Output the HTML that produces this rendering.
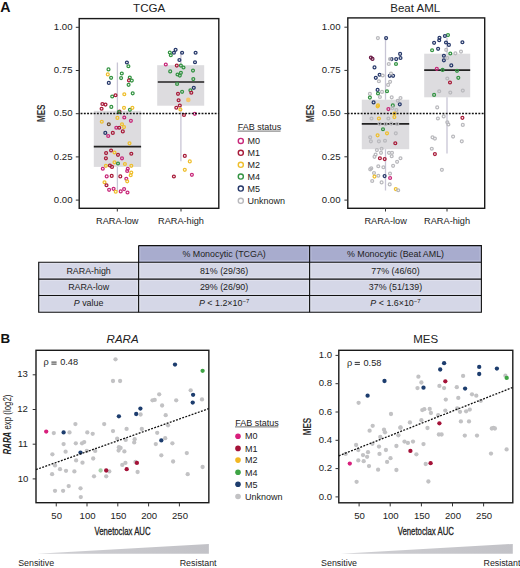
<!DOCTYPE html>
<html><head><meta charset="utf-8">
<style>
html,body{margin:0;padding:0;background:#fff;}
body{width:520px;height:568px;overflow:hidden;}
svg{display:block;}
text{font-family:"Liberation Sans",sans-serif;fill:#222;}
.t{font-size:9.6px;}
.xl{font-size:9.2px;}
.h{fill:none;stroke-width:1.25;}
</style></head><body>
<svg width="520" height="568" viewBox="0 0 520 568">
<!-- Panel labels -->
<text x="0.3" y="12.4" style="font-size:14.2px;font-weight:bold;fill:#111">A</text>
<text x="0.6" y="343.3" style="font-size:13.4px;font-weight:bold;fill:#111">B</text>

<!-- ===== TCGA ===== -->
<text x="149.2" y="12.1" text-anchor="middle" style="font-size:11.6px">TCGA</text>
<g fill="#dddcdf">
<rect x="93.8" y="110.8" width="47.3" height="56.1"/>
<rect x="157.2" y="65.2" width="47" height="40.5"/>
</g>
<g stroke="#c8c5d5" stroke-width="1.3">
<line x1="117.4" y1="62.5" x2="117.4" y2="110.8"/><line x1="117.4" y1="166.9" x2="117.4" y2="191.3"/>
<line x1="180.9" y1="52" x2="180.9" y2="65.2"/><line x1="180.9" y1="106" x2="180.9" y2="161.3"/>
</g>
<g stroke="#222" stroke-width="1.7">
<line x1="93.8" y1="146.7" x2="141.1" y2="146.7"/>
<line x1="157.8" y1="82" x2="204.2" y2="82"/>
</g>
<g class="h">
<circle cx="126.9" cy="62.5" r="1.45" stroke="#26386a"/>
<circle cx="128.4" cy="66.2" r="1.45" stroke="#349443"/>
<circle cx="108.5" cy="69.4" r="1.45" stroke="#349443"/>
<circle cx="107.8" cy="74.4" r="1.45" stroke="#efbf2d"/>
<circle cx="111.1" cy="77.8" r="1.45" stroke="#349443"/>
<circle cx="121.8" cy="73.5" r="1.45" stroke="#349443"/>
<circle cx="121.1" cy="78.1" r="1.45" stroke="#349443"/>
<circle cx="129.8" cy="77.5" r="1.45" stroke="#349443"/>
<circle cx="129" cy="80.4" r="1.45" stroke="#a81c3a"/>
<circle cx="131.8" cy="80.6" r="1.45" stroke="#349443"/>
<circle cx="128.6" cy="84.8" r="1.45" stroke="#349443"/>
<circle cx="108.8" cy="82.9" r="1.45" stroke="#26386a"/>
<circle cx="124.3" cy="94.2" r="1.45" stroke="#efbf2d"/>
<circle cx="132.7" cy="93.3" r="1.45" stroke="#349443"/>
<circle cx="112.2" cy="96.5" r="1.45" stroke="#349443"/>
<circle cx="115.5" cy="95.2" r="1.45" stroke="#a81c3a"/>
<circle cx="102.4" cy="104" r="1.45" stroke="#a81c3a"/>
<circle cx="105.5" cy="104.6" r="1.45" stroke="#a81c3a"/>
<circle cx="101.6" cy="108.7" r="1.45" stroke="#a81c3a"/>
<circle cx="111.3" cy="106.9" r="1.45" stroke="#349443"/>
<circle cx="124" cy="107.8" r="1.45" stroke="#efbf2d"/>
<circle cx="129.9" cy="109.8" r="1.45" stroke="#349443"/>
<circle cx="132.4" cy="107.8" r="1.45" stroke="#efbf2d"/>
<circle cx="119.5" cy="111.5" r="1.45" stroke="#a81c3a"/>
<circle cx="118.9" cy="112.1" r="1.45" stroke="#349443"/>
<circle cx="117.4" cy="117.9" r="1.45" stroke="#efbf2d"/>
<circle cx="124.3" cy="117.5" r="1.45" stroke="#c8287a"/>
<circle cx="130.9" cy="120.8" r="1.45" stroke="#c8287a"/>
<circle cx="101.8" cy="121.7" r="1.45" stroke="#efbf2d"/>
<circle cx="108.8" cy="124.2" r="1.45" stroke="#6a4a30"/>
<circle cx="122" cy="124.2" r="1.45" stroke="#efbf2d"/>
<circle cx="116.3" cy="127.7" r="1.45" stroke="#c8287a"/>
<circle cx="119.2" cy="127.7" r="1.45" stroke="#a81c3a"/>
<circle cx="124" cy="127.1" r="1.45" stroke="#efbf2d"/>
<circle cx="122.8" cy="131.4" r="1.45" stroke="#a81c3a"/>
<circle cx="105.3" cy="132.9" r="1.45" stroke="#26386a"/>
<circle cx="112.8" cy="132.9" r="1.45" stroke="#a81c3a"/>
<circle cx="108.2" cy="136" r="1.45" stroke="#c8287a"/>
<circle cx="129.5" cy="143.3" r="1.45" stroke="#efbf2d"/>
<circle cx="111.1" cy="150.5" r="1.45" stroke="#a81c3a"/>
<circle cx="106.1" cy="153.1" r="1.45" stroke="#a81c3a"/>
<circle cx="114.5" cy="152.5" r="1.45" stroke="#efbf2d"/>
<circle cx="118" cy="154.8" r="1.45" stroke="#a81c3a"/>
<circle cx="131.3" cy="153.7" r="1.45" stroke="#a81c3a"/>
<circle cx="105.9" cy="158.3" r="1.45" stroke="#a81c3a"/>
<circle cx="122" cy="158.3" r="1.45" stroke="#c8287a"/>
<circle cx="114.5" cy="162.3" r="1.45" stroke="#efbf2d"/>
<circle cx="118" cy="163.5" r="1.45" stroke="#349443"/>
<circle cx="124.9" cy="164" r="1.45" stroke="#efbf2d"/>
<circle cx="105.9" cy="165.8" r="1.45" stroke="#efbf2d"/>
<circle cx="109.9" cy="165.5" r="1.45" stroke="#a81c3a"/>
<circle cx="112" cy="166.9" r="1.45" stroke="#a81c3a"/>
<circle cx="131.3" cy="165.8" r="1.45" stroke="#efbf2d"/>
<circle cx="102.8" cy="168.7" r="1.45" stroke="#c8287a"/>
<circle cx="127.8" cy="168.7" r="1.45" stroke="#c8287a"/>
<circle cx="127.2" cy="171" r="1.45" stroke="#c8287a"/>
<circle cx="131.3" cy="172.5" r="1.45" stroke="#efbf2d"/>
<circle cx="130.7" cy="175.2" r="1.45" stroke="#efbf2d"/>
<circle cx="106.7" cy="176.4" r="1.45" stroke="#c8287a"/>
<circle cx="111.7" cy="175.9" r="1.45" stroke="#a81c3a"/>
<circle cx="120.3" cy="176.4" r="1.45" stroke="#a81c3a"/>
<circle cx="126.3" cy="178.7" r="1.45" stroke="#c8287a"/>
<circle cx="127.2" cy="181.3" r="1.45" stroke="#efbf2d"/>
<circle cx="104.5" cy="182.2" r="1.45" stroke="#efbf2d"/>
<circle cx="106.5" cy="185.2" r="1.45" stroke="#a81c3a"/>
<circle cx="109.1" cy="189.8" r="1.45" stroke="#c8287a"/>
<circle cx="113.6" cy="188.8" r="1.45" stroke="#c8287a"/>
<circle cx="115.7" cy="191.7" r="1.45" stroke="#efbf2d"/>
<circle cx="120.7" cy="191.4" r="1.45" stroke="#c8287a"/>
<circle cx="124.1" cy="189.1" r="1.45" stroke="#c8287a"/>
<circle cx="127.5" cy="192.5" r="1.45" stroke="#c8287a"/>
<circle cx="175.6" cy="49.8" r="1.45" stroke="#26386a"/>
<circle cx="173.9" cy="52.7" r="1.45" stroke="#26386a"/>
<circle cx="169.8" cy="52.5" r="1.45" stroke="#349443"/>
<circle cx="170.8" cy="55.2" r="1.45" stroke="#349443"/>
<circle cx="182.1" cy="52.7" r="1.45" stroke="#26386a"/>
<circle cx="195.6" cy="52.7" r="1.45" stroke="#26386a"/>
<circle cx="179.4" cy="60" r="1.45" stroke="#26386a"/>
<circle cx="195" cy="62.2" r="1.45" stroke="#26386a"/>
<circle cx="165.8" cy="64.5" r="1.45" stroke="#c8287a"/>
<circle cx="176.8" cy="65.6" r="1.45" stroke="#a81c3a"/>
<circle cx="180.9" cy="65.6" r="1.45" stroke="#349443"/>
<circle cx="183.5" cy="67.5" r="1.45" stroke="#349443"/>
<circle cx="170.2" cy="71.4" r="1.45" stroke="#349443"/>
<circle cx="193" cy="70.6" r="1.45" stroke="#349443"/>
<circle cx="180.9" cy="72.8" r="1.45" stroke="#349443"/>
<circle cx="177.5" cy="74.5" r="1.45" stroke="#349443"/>
<circle cx="179.8" cy="75.6" r="1.45" stroke="#349443"/>
<circle cx="193.3" cy="79.1" r="1.45" stroke="#349443"/>
<circle cx="177.1" cy="84" r="1.45" stroke="#349443"/>
<circle cx="193.8" cy="87.8" r="1.45" stroke="#26386a"/>
<circle cx="190.4" cy="90.2" r="1.45" stroke="#349443"/>
<circle cx="191.3" cy="92.7" r="1.45" stroke="#a81c3a"/>
<circle cx="182.1" cy="91.8" r="1.45" stroke="#349443"/>
<circle cx="178" cy="93.8" r="1.45" stroke="#a81c3a"/>
<circle cx="178.6" cy="100.2" r="1.45" stroke="#a81c3a"/>
<circle cx="188.3" cy="99.9" r="2.3" fill="#f4c56e" stroke="none"/>
<circle cx="179.8" cy="105.5" r="1.45" stroke="#a81c3a"/>
<circle cx="176.3" cy="107.7" r="1.45" stroke="#a81c3a"/>
<circle cx="180.4" cy="109.5" r="1.45" stroke="#efbf2d"/>
<circle cx="184" cy="115" r="1.45" stroke="#a81c3a"/>
<circle cx="194.8" cy="113.8" r="1.45" stroke="#c8287a"/>
<circle cx="184.8" cy="155.9" r="1.45" stroke="#a81c3a"/>
<circle cx="189.8" cy="161.4" r="1.45" stroke="#efbf2d"/>
<circle cx="184.8" cy="169.8" r="1.45" stroke="#efbf2d"/>
<circle cx="191.9" cy="174.8" r="1.45" stroke="#c8287a"/>
<circle cx="173.9" cy="176.5" r="1.45" stroke="#a81c3a"/>
</g>
<line x1="79" y1="113.5" x2="219" y2="113.5" stroke="#111" stroke-width="1.5" stroke-dasharray="1.9,1.37" stroke-dashoffset="1.69"/>
<rect x="79.2" y="18.6" width="139.6" height="189.7" fill="none" stroke="#1a1a1a" stroke-width="1.4"/>
<g stroke="#333" stroke-width="1">
<line x1="75.8" y1="27.3" x2="79" y2="27.3"/><line x1="75.8" y1="70.5" x2="79" y2="70.5"/>
<line x1="75.8" y1="113.7" x2="79" y2="113.7"/><line x1="75.8" y1="156.9" x2="79" y2="156.9"/>
<line x1="75.8" y1="200.1" x2="79" y2="200.1"/>
<line x1="117.3" y1="208.3" x2="117.3" y2="211.5"/><line x1="181" y1="208.3" x2="181" y2="211.5"/>
</g>
<g class="t" text-anchor="end">
<text x="72.5" y="30.0">1.00</text><text x="72.5" y="73.2">0.75</text><text x="72.5" y="116.4">0.50</text>
<text x="72.5" y="159.6">0.25</text><text x="72.5" y="202.8">0.00</text>
</g>
<g class="xl" text-anchor="middle">
<text x="117.3" y="224.4">RARA-low</text><text x="181" y="224.4">RARA-high</text>
</g>
<text transform="translate(45.3,113.3) rotate(-90) scale(0.75,1)" text-anchor="middle" style="font-size:10.8px;font-weight:bold;fill:#333">MES</text>

<!-- Legend A -->
<text x="237.7" y="130" style="font-size:9px">FAB status</text>
<line x1="237.6" y1="131.1" x2="280.6" y2="131.1" stroke="#333" stroke-width="0.7"/>
<g fill="none" stroke-width="1.4">
<circle cx="240.8" cy="140.9" r="2.55" stroke="#c8287a"/>
<circle cx="240.8" cy="152.8" r="2.55" stroke="#a81c3a"/>
<circle cx="240.8" cy="164.8" r="2.55" stroke="#efbf2d"/>
<circle cx="240.8" cy="176.6" r="2.55" stroke="#349443"/>
<circle cx="240.8" cy="188.6" r="2.55" stroke="#26386a"/>
<circle cx="240.8" cy="200.8" r="2.55" stroke="#b9b9bd"/>
</g>
<g style="font-size:9px">
<text x="247.4" y="144">M0</text><text x="247.4" y="155.9">M1</text><text x="247.4" y="167.9">M2</text>
<text x="247.4" y="179.7">M4</text><text x="247.4" y="191.7">M5</text><text x="247.4" y="203.9">Unknown</text>
</g>

<!-- ===== Beat AML ===== -->
<text x="415.2" y="11.6" text-anchor="middle" style="font-size:11.5px">Beat AML</text>
<g fill="#dddcdf">
<rect x="361.8" y="99.7" width="47.4" height="49.5"/>
<rect x="424.2" y="53.7" width="46" height="43.6"/>
</g>
<g stroke="#c8c5d5" stroke-width="1.3">
<line x1="385.5" y1="38" x2="385.5" y2="99.7"/><line x1="385.5" y1="149.2" x2="385.5" y2="190.5"/>
<line x1="447" y1="38" x2="447" y2="53.7"/><line x1="447" y1="97.3" x2="447" y2="153.5"/>
</g>
<g stroke="#222" stroke-width="1.7">
<line x1="361.8" y1="123.8" x2="409.2" y2="123.8"/>
<line x1="424.2" y1="70.1" x2="470.2" y2="70.1"/>
</g>
<g class="h">
<circle cx="377.9" cy="38.1" r="1.45" stroke="#b9b9bd"/>
<circle cx="386.1" cy="38.1" r="1.45" stroke="#26386a"/>
<circle cx="370.9" cy="57.6" r="1.45" stroke="#6a1a45"/>
<circle cx="372.5" cy="58.9" r="1.45" stroke="#6a1a45"/>
<circle cx="400.1" cy="53.9" r="1.45" stroke="#26386a"/>
<circle cx="400.5" cy="58" r="1.45" stroke="#26386a"/>
<circle cx="396.2" cy="59.1" r="1.45" stroke="#26386a"/>
<circle cx="391.5" cy="59.1" r="1.45" stroke="#26386a"/>
<circle cx="390" cy="59.1" r="1.45" stroke="#b9b9bd"/>
<circle cx="388.8" cy="64" r="1.45" stroke="#b9b9bd"/>
<circle cx="396" cy="64" r="1.45" stroke="#349443"/>
<circle cx="374.5" cy="67.4" r="1.45" stroke="#26386a"/>
<circle cx="379.6" cy="74.7" r="1.45" stroke="#26386a"/>
<circle cx="375.8" cy="77.8" r="1.45" stroke="#26386a"/>
<circle cx="382.7" cy="75.5" r="1.45" stroke="#b9b9bd"/>
<circle cx="389.7" cy="75.8" r="1.45" stroke="#26386a"/>
<circle cx="393.1" cy="75.8" r="1.45" stroke="#26386a"/>
<circle cx="391" cy="73.5" r="1.45" stroke="#b9b9bd"/>
<circle cx="378.9" cy="81.2" r="1.45" stroke="#b9b9bd"/>
<circle cx="390.1" cy="81.8" r="1.45" stroke="#b9b9bd"/>
<circle cx="388.1" cy="84.9" r="1.45" stroke="#b9b9bd"/>
<circle cx="377.6" cy="89.9" r="1.45" stroke="#26386a"/>
<circle cx="387" cy="91.2" r="1.45" stroke="#349443"/>
<circle cx="378" cy="93.5" r="1.45" stroke="#349443"/>
<circle cx="382" cy="91.9" r="1.45" stroke="#b9b9bd"/>
<circle cx="369.9" cy="93.9" r="1.45" stroke="#b9b9bd"/>
<circle cx="369.9" cy="97.6" r="1.45" stroke="#349443"/>
<circle cx="379.9" cy="97" r="1.45" stroke="#b9b9bd"/>
<circle cx="391.7" cy="97.3" r="1.45" stroke="#b9b9bd"/>
<circle cx="400.5" cy="98" r="1.45" stroke="#b9b9bd"/>
<circle cx="373.6" cy="102.4" r="1.45" stroke="#26386a"/>
<circle cx="378" cy="105.4" r="1.45" stroke="#efbf2d"/>
<circle cx="399.8" cy="104.3" r="1.45" stroke="#26386a"/>
<circle cx="392.8" cy="105.4" r="1.45" stroke="#349443"/>
<circle cx="397.8" cy="100.7" r="1.45" stroke="#b9b9bd"/>
<circle cx="388.4" cy="109.1" r="1.45" stroke="#c8287a"/>
<circle cx="392.4" cy="108.1" r="1.45" stroke="#b9b9bd"/>
<circle cx="396.4" cy="110.1" r="1.45" stroke="#b9b9bd"/>
<circle cx="394.4" cy="113.5" r="1.45" stroke="#efbf2d"/>
<circle cx="379.5" cy="123.8" r="1.45" stroke="#b9b9bd"/>
<circle cx="385.6" cy="124.1" r="1.45" stroke="#b9b9bd"/>
<circle cx="391.2" cy="123.6" r="1.45" stroke="#b9b9bd"/>
<circle cx="397.2" cy="124" r="1.45" stroke="#b9b9bd"/>
<circle cx="377.6" cy="106.3" r="1.45" stroke="#efbf2d"/>
<circle cx="378.9" cy="118.5" r="1.45" stroke="#efbf2d"/>
<circle cx="394.4" cy="117.1" r="1.45" stroke="#efbf2d"/>
<circle cx="388.4" cy="118.5" r="1.45" stroke="#b9b9bd"/>
<circle cx="371.5" cy="118.5" r="1.45" stroke="#b9b9bd"/>
<circle cx="383" cy="129.2" r="1.45" stroke="#349443"/>
<circle cx="377.6" cy="135.3" r="1.45" stroke="#efbf2d"/>
<circle cx="387" cy="133.3" r="1.45" stroke="#efbf2d"/>
<circle cx="370.2" cy="137.3" r="1.45" stroke="#b9b9bd"/>
<circle cx="395.8" cy="133.3" r="1.45" stroke="#b9b9bd"/>
<circle cx="395.3" cy="143.2" r="1.45" stroke="#a81c3a"/>
<circle cx="378.9" cy="141.3" r="1.45" stroke="#b9b9bd"/>
<circle cx="385" cy="140.7" r="1.45" stroke="#b9b9bd"/>
<circle cx="370.9" cy="141.3" r="1.45" stroke="#b9b9bd"/>
<circle cx="376.9" cy="150.1" r="1.45" stroke="#b9b9bd"/>
<circle cx="381.6" cy="148.7" r="1.45" stroke="#b9b9bd"/>
<circle cx="381" cy="152.8" r="1.45" stroke="#b9b9bd"/>
<circle cx="389" cy="152.8" r="1.45" stroke="#b9b9bd"/>
<circle cx="392" cy="152.8" r="1.45" stroke="#b9b9bd"/>
<circle cx="391.7" cy="156.2" r="1.45" stroke="#b9b9bd"/>
<circle cx="374.5" cy="156.8" r="1.45" stroke="#b9b9bd"/>
<circle cx="375.6" cy="154.5" r="1.45" stroke="#b9b9bd"/>
<circle cx="379.9" cy="158.2" r="1.45" stroke="#a81c3a"/>
<circle cx="384.7" cy="159.1" r="1.45" stroke="#a81c3a"/>
<circle cx="400.5" cy="158.2" r="1.45" stroke="#b9b9bd"/>
<circle cx="397.1" cy="161.8" r="1.45" stroke="#b9b9bd"/>
<circle cx="393.1" cy="165.8" r="1.45" stroke="#b9b9bd"/>
<circle cx="378.3" cy="166.2" r="1.45" stroke="#b9b9bd"/>
<circle cx="383.4" cy="167.2" r="1.45" stroke="#b9b9bd"/>
<circle cx="370.2" cy="169.3" r="1.45" stroke="#b9b9bd"/>
<circle cx="371.3" cy="168.3" r="1.45" stroke="#b9b9bd"/>
<circle cx="374" cy="173" r="1.45" stroke="#b9b9bd"/>
<circle cx="374.5" cy="176.6" r="1.45" stroke="#efbf2d"/>
<circle cx="378.3" cy="175.7" r="1.45" stroke="#b9b9bd"/>
<circle cx="384.6" cy="176.1" r="1.45" stroke="#26386a"/>
<circle cx="390" cy="173.6" r="1.45" stroke="#b9b9bd"/>
<circle cx="390.1" cy="178" r="1.45" stroke="#c8287a"/>
<circle cx="372.2" cy="181" r="1.45" stroke="#b9b9bd"/>
<circle cx="381.6" cy="182.4" r="1.45" stroke="#b9b9bd"/>
<circle cx="389.7" cy="184.4" r="1.45" stroke="#b9b9bd"/>
<circle cx="395.8" cy="189.1" r="1.45" stroke="#efbf2d"/>
<circle cx="398.2" cy="190.2" r="1.45" stroke="#b9b9bd"/>
<circle cx="448" cy="35.1" r="1.45" stroke="#349443"/>
<circle cx="444.9" cy="36" r="1.45" stroke="#26386a"/>
<circle cx="439.5" cy="37.8" r="1.45" stroke="#26386a"/>
<circle cx="439.2" cy="40.2" r="1.45" stroke="#26386a"/>
<circle cx="434.1" cy="42.8" r="1.45" stroke="#26386a"/>
<circle cx="446" cy="42.5" r="1.45" stroke="#26386a"/>
<circle cx="448.9" cy="44.9" r="1.45" stroke="#26386a"/>
<circle cx="462.4" cy="42.2" r="1.45" stroke="#26386a"/>
<circle cx="438.1" cy="48.8" r="1.45" stroke="#26386a"/>
<circle cx="432.1" cy="50.2" r="1.45" stroke="#349443"/>
<circle cx="446.2" cy="49.9" r="1.45" stroke="#b9b9bd"/>
<circle cx="461" cy="51.6" r="1.45" stroke="#b9b9bd"/>
<circle cx="455.4" cy="53.3" r="1.45" stroke="#b9b9bd"/>
<circle cx="450.3" cy="53.5" r="1.45" stroke="#349443"/>
<circle cx="443.9" cy="55.7" r="1.45" stroke="#26386a"/>
<circle cx="443.9" cy="60.3" r="1.45" stroke="#26386a"/>
<circle cx="447.3" cy="58" r="1.45" stroke="#b9b9bd"/>
<circle cx="451.3" cy="65.4" r="1.45" stroke="#26386a"/>
<circle cx="436.8" cy="68.8" r="1.45" stroke="#c8287a"/>
<circle cx="442.6" cy="69.9" r="1.45" stroke="#349443"/>
<circle cx="457" cy="70.8" r="1.45" stroke="#349443"/>
<circle cx="458.3" cy="77.8" r="1.45" stroke="#349443"/>
<circle cx="447.3" cy="78.5" r="1.45" stroke="#b9b9bd"/>
<circle cx="450" cy="82.5" r="1.45" stroke="#a81c3a"/>
<circle cx="439.2" cy="91.2" r="1.45" stroke="#b9b9bd"/>
<circle cx="450.3" cy="92.6" r="1.45" stroke="#b9b9bd"/>
<circle cx="462.8" cy="90.6" r="1.45" stroke="#b9b9bd"/>
<circle cx="434.1" cy="94.9" r="1.45" stroke="#349443"/>
<circle cx="437.2" cy="107.4" r="1.45" stroke="#b9b9bd"/>
<circle cx="437.9" cy="118.5" r="1.45" stroke="#b9b9bd"/>
<circle cx="443.7" cy="116.4" r="1.45" stroke="#b9b9bd"/>
<circle cx="462.4" cy="117.8" r="1.45" stroke="#a81c3a"/>
<circle cx="448.4" cy="124.5" r="1.45" stroke="#b9b9bd"/>
<circle cx="447.3" cy="122.2" r="1.45" stroke="#b9b9bd"/>
<circle cx="462.8" cy="124.9" r="1.45" stroke="#b9b9bd"/>
<circle cx="453.1" cy="136.6" r="1.45" stroke="#b9b9bd"/>
<circle cx="432.5" cy="137.3" r="1.45" stroke="#b9b9bd"/>
<circle cx="434.9" cy="138.6" r="1.45" stroke="#b9b9bd"/>
<circle cx="461.8" cy="141.3" r="1.45" stroke="#b9b9bd"/>
<circle cx="431.8" cy="148.7" r="1.45" stroke="#b9b9bd"/>
<circle cx="434.9" cy="154.1" r="1.45" stroke="#a81c3a"/>
<circle cx="441.9" cy="169.8" r="1.45" stroke="#b9b9bd"/>
</g>
<line x1="347.6" y1="113.4" x2="484.7" y2="113.4" stroke="#111" stroke-width="1.5" stroke-dasharray="1.9,1.37"/>
<rect x="347.8" y="17.9" width="136.9" height="190.4" fill="none" stroke="#1a1a1a" stroke-width="1.4"/>
<g stroke="#333" stroke-width="1">
<line x1="344.4" y1="27.2" x2="347.6" y2="27.2"/><line x1="344.4" y1="70.4" x2="347.6" y2="70.4"/>
<line x1="344.4" y1="113.6" x2="347.6" y2="113.6"/><line x1="344.4" y1="156.8" x2="347.6" y2="156.8"/>
<line x1="344.4" y1="200.1" x2="347.6" y2="200.1"/>
<line x1="385.5" y1="208.3" x2="385.5" y2="211.5"/><line x1="447" y1="208.3" x2="447" y2="211.5"/>
</g>
<g class="t" text-anchor="end">
<text x="340.5" y="29.9">1.00</text><text x="340.5" y="73.1">0.75</text><text x="340.5" y="116.3">0.50</text>
<text x="340.5" y="159.5">0.25</text><text x="340.5" y="202.8">0.00</text>
</g>
<g class="xl" text-anchor="middle">
<text x="385.6" y="224.4">RARA-low</text><text x="447.1" y="224.4">RARA-high</text>
</g>
<text transform="translate(313.6,113.3) rotate(-90) scale(0.75,1)" text-anchor="middle" style="font-size:10.8px;font-weight:bold;fill:#333">MES</text>

<!-- ===== Table ===== -->
<g>
<rect x="138.6" y="245.6" width="342.8" height="16.6" fill="#a8acce"/>
<rect x="38.7" y="262.2" width="442.7" height="50.1" fill="#d5d7e7"/>
<g fill="none" stroke="#e8e9f3" stroke-width="0.8">
<rect x="140" y="247" width="168.2" height="13.8" stroke="#bcc0dc"/>
<rect x="311" y="247" width="169" height="13.8" stroke="#bcc0dc"/>
<g stroke="#e2e3ee">
<rect x="40.1" y="263.6" width="97.1" height="14.1"/><rect x="140" y="263.6" width="168.2" height="14.1"/><rect x="311" y="263.6" width="169" height="14.1"/>
<rect x="40.1" y="280.5" width="97.1" height="13.6"/><rect x="140" y="280.5" width="168.2" height="13.6"/><rect x="311" y="280.5" width="169" height="13.6"/>
<rect x="40.1" y="296.9" width="97.1" height="14"/><rect x="140" y="296.9" width="168.2" height="14"/><rect x="311" y="296.9" width="169" height="14"/>
</g>
</g>
<g stroke="#111" stroke-width="1.1" fill="none">
<path d="M138.6 245.6H481.4V312.3H38.7V262.2H481.4"/>
<path d="M38.7 279.1H481.4M38.7 295.5H481.4"/>
<path d="M138.6 245.6V312.3M309.6 245.6V312.3"/>
</g>
<g style="font-size:8.9px" text-anchor="middle">
<text x="224.1" y="257.3">% Monocytic (TCGA)</text>
<text x="395.5" y="257.3">% Monocytic (Beat AML)</text>
<text x="88.6" y="273.6">RARA-high</text><text x="88.6" y="290">RARA-low</text>
<text x="88.6" y="306.3"><tspan font-style="italic">P</tspan> value</text>
<text x="224.1" y="273.6">81% (29/36)</text><text x="395.5" y="273.6">77% (46/60)</text>
<text x="224.1" y="290">29% (26/90)</text><text x="395.5" y="290">37% (51/139)</text>
<text x="224.1" y="306.3"><tspan font-style="italic">P</tspan> &lt; 1.2×10<tspan dy="-3.5" style="font-size:6px">−7</tspan></text>
<text x="395.5" y="306.3"><tspan font-style="italic">P</tspan> &lt; 1.6×10<tspan dy="-3.5" style="font-size:6px">−7</tspan></text>
</g>
</g>

<!-- ===== B left: RARA ===== -->
<text x="122.6" y="343.1" text-anchor="middle" style="font-size:11.5px;font-style:italic">RARA</text>
<g>
<circle cx="115.5" cy="359.3" r="2.15" fill="#c2c2c4"/>
<circle cx="113" cy="381" r="2.15" fill="#c2c2c4"/>
<circle cx="120.1" cy="381" r="2.15" fill="#c2c2c4"/>
<circle cx="75.4" cy="424.1" r="2.15" fill="#c2c2c4"/>
<circle cx="104.2" cy="424.1" r="2.15" fill="#c2c2c4"/>
<circle cx="190.7" cy="390.3" r="2.15" fill="#c2c2c4"/>
<circle cx="202" cy="399.4" r="2.15" fill="#c2c2c4"/>
<circle cx="159.2" cy="394.3" r="2.15" fill="#c2c2c4"/>
<circle cx="152.5" cy="400.3" r="2.15" fill="#c2c2c4"/>
<circle cx="154.7" cy="399.9" r="2.15" fill="#c2c2c4"/>
<circle cx="176.2" cy="400.3" r="2.15" fill="#c2c2c4"/>
<circle cx="162.1" cy="405.5" r="2.15" fill="#c2c2c4"/>
<circle cx="140.6" cy="414.5" r="2.15" fill="#c2c2c4"/>
<circle cx="165.7" cy="415.2" r="2.15" fill="#c2c2c4"/>
<circle cx="168" cy="425.3" r="2.15" fill="#c2c2c4"/>
<circle cx="53.8" cy="433.1" r="2.15" fill="#c2c2c4"/>
<circle cx="69.5" cy="432.4" r="2.15" fill="#c2c2c4"/>
<circle cx="87.3" cy="432.4" r="2.15" fill="#c2c2c4"/>
<circle cx="92.7" cy="433.8" r="2.15" fill="#c2c2c4"/>
<circle cx="113" cy="431.1" r="2.15" fill="#c2c2c4"/>
<circle cx="63.6" cy="444.1" r="2.15" fill="#c2c2c4"/>
<circle cx="75.8" cy="443.3" r="2.15" fill="#c2c2c4"/>
<circle cx="82" cy="443.3" r="2.15" fill="#c2c2c4"/>
<circle cx="84.2" cy="442.1" r="2.15" fill="#c2c2c4"/>
<circle cx="117.2" cy="438.7" r="2.15" fill="#c2c2c4"/>
<circle cx="118.9" cy="447.2" r="2.15" fill="#c2c2c4"/>
<circle cx="120.6" cy="448" r="2.15" fill="#c2c2c4"/>
<circle cx="118.6" cy="450.5" r="2.15" fill="#c2c2c4"/>
<circle cx="52.4" cy="454.3" r="2.15" fill="#c2c2c4"/>
<circle cx="65.6" cy="451.7" r="2.15" fill="#c2c2c4"/>
<circle cx="86.8" cy="450.9" r="2.15" fill="#c2c2c4"/>
<circle cx="95.2" cy="450.9" r="2.15" fill="#c2c2c4"/>
<circle cx="76.1" cy="460.4" r="2.15" fill="#c2c2c4"/>
<circle cx="82.5" cy="462.7" r="2.15" fill="#c2c2c4"/>
<circle cx="93.2" cy="458.5" r="2.15" fill="#c2c2c4"/>
<circle cx="55" cy="465.4" r="2.15" fill="#c2c2c4"/>
<circle cx="60" cy="469.2" r="2.15" fill="#c2c2c4"/>
<circle cx="66" cy="470.8" r="2.15" fill="#c2c2c4"/>
<circle cx="74.4" cy="471.4" r="2.15" fill="#c2c2c4"/>
<circle cx="52.1" cy="474.2" r="2.15" fill="#c2c2c4"/>
<circle cx="109.3" cy="471.4" r="2.15" fill="#c2c2c4"/>
<circle cx="94" cy="476.3" r="2.15" fill="#c2c2c4"/>
<circle cx="106.2" cy="476.3" r="2.15" fill="#c2c2c4"/>
<circle cx="122.3" cy="464.9" r="2.15" fill="#c2c2c4"/>
<circle cx="68.7" cy="486.1" r="2.15" fill="#c2c2c4"/>
<circle cx="55" cy="490.8" r="2.15" fill="#c2c2c4"/>
<circle cx="63.1" cy="490.8" r="2.15" fill="#c2c2c4"/>
<circle cx="80.5" cy="488.3" r="2.15" fill="#c2c2c4"/>
<circle cx="80.8" cy="497.1" r="2.15" fill="#c2c2c4"/>
<circle cx="126.6" cy="428.9" r="2.15" fill="#c2c2c4"/>
<circle cx="141.8" cy="429" r="2.15" fill="#c2c2c4"/>
<circle cx="157.2" cy="432.8" r="2.15" fill="#c2c2c4"/>
<circle cx="125.7" cy="439.9" r="2.15" fill="#c2c2c4"/>
<circle cx="134.7" cy="439.2" r="2.15" fill="#c2c2c4"/>
<circle cx="134.2" cy="442.4" r="2.15" fill="#c2c2c4"/>
<circle cx="165.2" cy="438.2" r="2.15" fill="#c2c2c4"/>
<circle cx="155.8" cy="444.1" r="2.15" fill="#c2c2c4"/>
<circle cx="172.4" cy="443.3" r="2.15" fill="#c2c2c4"/>
<circle cx="124.4" cy="451.4" r="2.15" fill="#c2c2c4"/>
<circle cx="161.3" cy="455.3" r="2.15" fill="#c2c2c4"/>
<circle cx="186.8" cy="453.1" r="2.15" fill="#c2c2c4"/>
<circle cx="125.4" cy="462.9" r="2.15" fill="#c2c2c4"/>
<circle cx="135.5" cy="462" r="2.15" fill="#c2c2c4"/>
<circle cx="137.6" cy="472" r="2.15" fill="#c2c2c4"/>
<circle cx="173.1" cy="461.5" r="2.15" fill="#c2c2c4"/>
<circle cx="202.6" cy="467" r="2.15" fill="#c2c2c4"/>
<circle cx="187.7" cy="474.2" r="2.15" fill="#c2c2c4"/>
<circle cx="118.9" cy="416.3" r="2.15" fill="#1d3d6e"/>
<circle cx="175" cy="364.6" r="2.15" fill="#1d3d6e"/>
<circle cx="202.6" cy="370.8" r="2.15" fill="#3ea444"/>
<circle cx="193.1" cy="394.8" r="2.15" fill="#1d3d6e"/>
<circle cx="192.7" cy="402.6" r="2.15" fill="#1d3d6e"/>
<circle cx="140.4" cy="408.6" r="2.15" fill="#1d3d6e"/>
<circle cx="136.2" cy="414" r="2.15" fill="#1d3d6e"/>
<circle cx="46.2" cy="431.6" r="2.15" fill="#d81f7c"/>
<circle cx="63.6" cy="432.4" r="2.15" fill="#1d3d6e"/>
<circle cx="80.5" cy="452.6" r="2.15" fill="#1d3d6e"/>
<circle cx="100.6" cy="470.5" r="2.15" fill="#a9d0ab"/>
<circle cx="106.2" cy="470.5" r="2.15" fill="#a41238"/>
<circle cx="161.3" cy="440.4" r="2.15" fill="#1d3d6e"/>
<circle cx="136.9" cy="462.9" r="2.15" fill="#a41238"/>
<circle cx="126.7" cy="469.2" r="2.15" fill="#a41238"/>
</g>
<line x1="36" y1="469.6" x2="208.85" y2="408.6" stroke="#111" stroke-width="1.3" stroke-dasharray="1.9,1.4"/>
<rect x="36" y="350.3" width="172.85" height="152.4" fill="none" stroke="#1a1a1a" stroke-width="1.4"/>
<text x="43.6" y="365.3" style="font-size:9.2px">ρ</text><path d="M51.4 362.1H56.6M51.4 364.1H56.6" stroke="#333" stroke-width="1"/><text x="60.2" y="365.3" style="font-size:9.2px">0.48</text>
<g stroke="#333" stroke-width="1">
<line x1="32.7" y1="374.8" x2="36" y2="374.8"/><line x1="32.7" y1="409.5" x2="36" y2="409.5"/>
<line x1="32.7" y1="444.2" x2="36" y2="444.2"/><line x1="32.7" y1="478.9" x2="36" y2="478.9"/>
<line x1="56.25" y1="502.7" x2="56.25" y2="506.4"/><line x1="87.0" y1="502.7" x2="87.0" y2="506.4"/>
<line x1="117.8" y1="502.7" x2="117.8" y2="506.4"/><line x1="148.6" y1="502.7" x2="148.6" y2="506.4"/>
<line x1="179.4" y1="502.7" x2="179.4" y2="506.4"/>
</g>
<g class="t" text-anchor="end">
<text x="27.9" y="377.4">13</text><text x="27.9" y="412.1">12</text><text x="27.9" y="446.8">11</text><text x="28.3" y="481.5">10</text>
</g>
<g class="t" text-anchor="middle">
<text x="56.7" y="518.8">50</text><text x="87.6" y="518.8">100</text><text x="118.4" y="518.8">150</text>
<text x="149.2" y="518.8">200</text><text x="180" y="518.8">250</text>
</g>
<text transform="translate(122.5,535.1) scale(0.72,1)" text-anchor="middle" style="font-size:10.8px;fill:#222;stroke:#222;stroke-width:0.3">Venetoclax AUC</text>
<text transform="translate(11,424.5) rotate(-90) scale(0.75,1)" text-anchor="middle" style="font-size:10.5px;fill:#222"><tspan font-style="italic" font-weight="bold">RARA</tspan> exp (log2)</text>

<!-- Legend B -->
<text x="235.2" y="425.9" style="font-size:9px">FAB status</text>
<line x1="235" y1="426.9" x2="278.3" y2="426.9" stroke="#333" stroke-width="0.7"/>
<g>
<circle cx="238" cy="436.2" r="2.8" fill="#d81f7c"/>
<circle cx="238" cy="448.4" r="2.8" fill="#a41238"/>
<circle cx="238" cy="460.1" r="2.8" fill="#f2b723"/>
<circle cx="238" cy="472.3" r="2.8" fill="#3ea444"/>
<circle cx="238" cy="484.3" r="2.8" fill="#1d3d6e"/>
<circle cx="238" cy="496.5" r="2.8" fill="#c2c2c4"/>
</g>
<g style="font-size:9px">
<text x="245" y="439.4">M0</text><text x="245" y="451.6">M1</text><text x="245" y="463.3">M2</text>
<text x="245" y="475.5">M4</text><text x="245" y="487.5">M5</text><text x="245" y="499.7">Unknown</text>
</g>

<!-- ===== B right: MES ===== -->
<text x="425.6" y="343.1" text-anchor="middle" style="font-size:11.5px">MES</text>
<g>
<circle cx="358.6" cy="402.8" r="2.15" fill="#c2c2c4"/>
<circle cx="418.4" cy="376.7" r="2.15" fill="#c2c2c4"/>
<circle cx="421.4" cy="382.5" r="2.15" fill="#c2c2c4"/>
<circle cx="417.5" cy="388.1" r="2.15" fill="#c2c2c4"/>
<circle cx="391" cy="414" r="2.15" fill="#c2c2c4"/>
<circle cx="422.3" cy="410.1" r="2.15" fill="#c2c2c4"/>
<circle cx="424.3" cy="409.2" r="2.15" fill="#c2c2c4"/>
<circle cx="409.9" cy="422.4" r="2.15" fill="#c2c2c4"/>
<circle cx="421.4" cy="420.2" r="2.15" fill="#c2c2c4"/>
<circle cx="372.7" cy="425.8" r="2.15" fill="#c2c2c4"/>
<circle cx="400.6" cy="427.5" r="2.15" fill="#c2c2c4"/>
<circle cx="463.1" cy="375.9" r="2.15" fill="#c2c2c4"/>
<circle cx="505.4" cy="375.7" r="2.15" fill="#c2c2c4"/>
<circle cx="439.4" cy="385.9" r="2.15" fill="#c2c2c4"/>
<circle cx="444.1" cy="388.1" r="2.15" fill="#c2c2c4"/>
<circle cx="456.8" cy="387.2" r="2.15" fill="#c2c2c4"/>
<circle cx="472" cy="394.3" r="2.15" fill="#c2c2c4"/>
<circle cx="476.3" cy="395.7" r="2.15" fill="#c2c2c4"/>
<circle cx="445.8" cy="399.6" r="2.15" fill="#c2c2c4"/>
<circle cx="458.3" cy="397.9" r="2.15" fill="#c2c2c4"/>
<circle cx="480.8" cy="400.8" r="2.15" fill="#c2c2c4"/>
<circle cx="429.7" cy="408.9" r="2.15" fill="#c2c2c4"/>
<circle cx="430.9" cy="413" r="2.15" fill="#c2c2c4"/>
<circle cx="445.3" cy="410.6" r="2.15" fill="#c2c2c4"/>
<circle cx="457.2" cy="408.4" r="2.15" fill="#c2c2c4"/>
<circle cx="460" cy="411.8" r="2.15" fill="#c2c2c4"/>
<circle cx="466.1" cy="411.3" r="2.15" fill="#c2c2c4"/>
<circle cx="469.8" cy="409.6" r="2.15" fill="#c2c2c4"/>
<circle cx="438.2" cy="415.2" r="2.15" fill="#c2c2c4"/>
<circle cx="460.9" cy="421.4" r="2.15" fill="#c2c2c4"/>
<circle cx="469" cy="421.4" r="2.15" fill="#c2c2c4"/>
<circle cx="493.5" cy="427.8" r="2.15" fill="#c2c2c4"/>
<circle cx="369.6" cy="430.7" r="2.15" fill="#c2c2c4"/>
<circle cx="384" cy="429.7" r="2.15" fill="#c2c2c4"/>
<circle cx="385" cy="432.3" r="2.15" fill="#c2c2c4"/>
<circle cx="400.3" cy="427.7" r="2.15" fill="#c2c2c4"/>
<circle cx="398.4" cy="435.3" r="2.15" fill="#c2c2c4"/>
<circle cx="380.3" cy="437" r="2.15" fill="#c2c2c4"/>
<circle cx="356.1" cy="445" r="2.15" fill="#c2c2c4"/>
<circle cx="358.3" cy="450" r="2.15" fill="#c2c2c4"/>
<circle cx="372.4" cy="443.8" r="2.15" fill="#c2c2c4"/>
<circle cx="379" cy="446.6" r="2.15" fill="#c2c2c4"/>
<circle cx="396.4" cy="446" r="2.15" fill="#c2c2c4"/>
<circle cx="404.5" cy="441.6" r="2.15" fill="#c2c2c4"/>
<circle cx="407.9" cy="442.9" r="2.15" fill="#c2c2c4"/>
<circle cx="413" cy="441.6" r="2.15" fill="#c2c2c4"/>
<circle cx="423.5" cy="444.1" r="2.15" fill="#c2c2c4"/>
<circle cx="385.9" cy="450" r="2.15" fill="#c2c2c4"/>
<circle cx="345.6" cy="453.9" r="2.15" fill="#c2c2c4"/>
<circle cx="363" cy="455.1" r="2.15" fill="#c2c2c4"/>
<circle cx="368" cy="452.2" r="2.15" fill="#c2c2c4"/>
<circle cx="367.1" cy="456.8" r="2.15" fill="#c2c2c4"/>
<circle cx="379.5" cy="453.9" r="2.15" fill="#c2c2c4"/>
<circle cx="416.4" cy="454.3" r="2.15" fill="#c2c2c4"/>
<circle cx="358.3" cy="460.4" r="2.15" fill="#c2c2c4"/>
<circle cx="363.7" cy="461.2" r="2.15" fill="#c2c2c4"/>
<circle cx="369" cy="466.1" r="2.15" fill="#c2c2c4"/>
<circle cx="378.1" cy="469.7" r="2.15" fill="#c2c2c4"/>
<circle cx="387.1" cy="461.9" r="2.15" fill="#c2c2c4"/>
<circle cx="390.5" cy="458.2" r="2.15" fill="#c2c2c4"/>
<circle cx="396.4" cy="470" r="2.15" fill="#c2c2c4"/>
<circle cx="356.6" cy="481.8" r="2.15" fill="#c2c2c4"/>
<circle cx="425.7" cy="464" r="2.15" fill="#c2c2c4"/>
<circle cx="427.5" cy="428" r="2.15" fill="#c2c2c4"/>
<circle cx="438.9" cy="434.5" r="2.15" fill="#c2c2c4"/>
<circle cx="441.6" cy="434.5" r="2.15" fill="#c2c2c4"/>
<circle cx="464.8" cy="435.6" r="2.15" fill="#c2c2c4"/>
<circle cx="477" cy="435.6" r="2.15" fill="#c2c2c4"/>
<circle cx="491.8" cy="428.5" r="2.15" fill="#c2c2c4"/>
<circle cx="494.9" cy="428.5" r="2.15" fill="#c2c2c4"/>
<circle cx="506.6" cy="449.4" r="2.15" fill="#c2c2c4"/>
<circle cx="491" cy="453.6" r="2.15" fill="#c2c2c4"/>
<circle cx="428.4" cy="481.5" r="2.15" fill="#c2c2c4"/>
<circle cx="384.5" cy="381" r="2.15" fill="#1d3d6e"/>
<circle cx="367.6" cy="395.7" r="2.15" fill="#1d3d6e"/>
<circle cx="423.5" cy="387.7" r="2.15" fill="#1d3d6e"/>
<circle cx="444.1" cy="363.2" r="2.15" fill="#1d3d6e"/>
<circle cx="440.2" cy="369.5" r="2.15" fill="#1d3d6e"/>
<circle cx="479.2" cy="366.9" r="2.15" fill="#1d3d6e"/>
<circle cx="479.2" cy="374" r="2.15" fill="#1d3d6e"/>
<circle cx="496.9" cy="368.6" r="2.15" fill="#1d3d6e"/>
<circle cx="445.3" cy="381.3" r="2.15" fill="#a41238"/>
<circle cx="506.7" cy="377.9" r="2.15" fill="#3ea444"/>
<circle cx="465.1" cy="388.6" r="2.15" fill="#1d3d6e"/>
<circle cx="439.4" cy="423.3" r="2.15" fill="#a41238"/>
<circle cx="410.4" cy="450.9" r="2.15" fill="#a41238"/>
<circle cx="349.8" cy="463.6" r="2.15" fill="#d81f7c"/>
<circle cx="430.6" cy="463.2" r="2.15" fill="#a41238"/>
</g>
<line x1="338.8" y1="455.8" x2="512.8" y2="387.4" stroke="#111" stroke-width="1.3" stroke-dasharray="1.9,1.4"/>
<rect x="338.8" y="350.3" width="174" height="152.5" fill="none" stroke="#1a1a1a" stroke-width="1.4"/>
<text x="346.9" y="365.6" style="font-size:9.2px">ρ</text><path d="M354.7 362.4H359.9M354.7 364.4H359.9" stroke="#333" stroke-width="1"/><text x="363.5" y="365.6" style="font-size:9.2px">0.58</text>
<g stroke="#333" stroke-width="1">
<line x1="335.5" y1="355.4" x2="338.8" y2="355.4"/><line x1="335.5" y1="383.7" x2="338.8" y2="383.7"/>
<line x1="335.5" y1="412" x2="338.8" y2="412"/><line x1="335.5" y1="440.3" x2="338.8" y2="440.3"/>
<line x1="335.5" y1="468.6" x2="338.8" y2="468.6"/><line x1="335.5" y1="496.9" x2="338.8" y2="496.9"/>
<line x1="359.1" y1="502.8" x2="359.1" y2="506.4"/><line x1="390.2" y1="502.8" x2="390.2" y2="506.4"/>
<line x1="421.4" y1="502.8" x2="421.4" y2="506.4"/><line x1="452.5" y1="502.8" x2="452.5" y2="506.4"/>
<line x1="483.6" y1="502.8" x2="483.6" y2="506.4"/>
</g>
<g class="t" text-anchor="end">
<text x="332" y="358.1">1.0</text><text x="332" y="386.4">0.8</text><text x="332" y="414.7">0.6</text>
<text x="332" y="443.0">0.4</text><text x="332" y="471.3">0.2</text><text x="332" y="499.6">0.0</text>
</g>
<g class="t" text-anchor="middle">
<text x="359.5" y="518.8">50</text><text x="390.7" y="518.8">100</text><text x="421.9" y="518.8">150</text>
<text x="453" y="518.8">200</text><text x="484.1" y="518.8">250</text>
</g>
<text transform="translate(425.8,535.1) scale(0.72,1)" text-anchor="middle" style="font-size:10.8px;fill:#222;stroke:#222;stroke-width:0.3">Venetoclax AUC</text>
<text transform="translate(311.3,426.5) rotate(-90) scale(0.75,1)" text-anchor="middle" style="font-size:10.8px;font-weight:bold;fill:#333">MES</text>

<!-- Gradient triangles -->
<defs>
<linearGradient id="g1" x1="0" y1="0" x2="1" y2="0">
<stop offset="0" stop-color="#cfcfd3"/><stop offset="1" stop-color="#c2c2c7"/>
</linearGradient>
</defs>
<polygon points="37,553.8 208.9,543.9 208.9,553.8" fill="url(#g1)"/>
<polygon points="340.8,553.8 512.8,543.9 512.8,553.8" fill="url(#g1)"/>
<g style="font-size:8.85px">
<text x="18.2" y="565.5">Sensitive</text><text x="179.7" y="565.5">Resistant</text>
<text x="321.1" y="565.5">Sensitive</text><text x="483.5" y="565.5">Resistant</text>
</g>
</svg>
</body></html>
